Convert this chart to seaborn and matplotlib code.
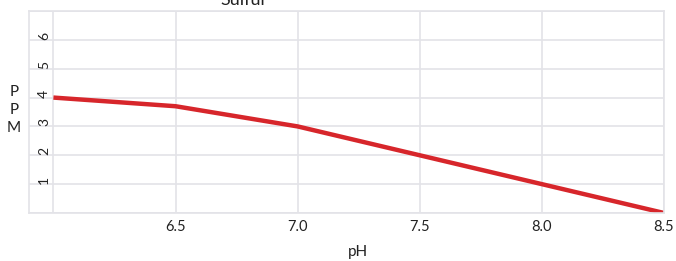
import matplotlib
matplotlib.use("Agg")
import matplotlib.pyplot as plt
import seaborn as sns
import pandas as pd

# data
ph = [6.0, 6.5, 7.0, 7.5, 8.0, 8.5]
ppm = [4.0, 3.7, 3.0, 2.0, 1.0, 0.0]
x_ticks = [6.0, 6.5, 7.0, 7.5, 8.0, 8.5]
x_labels = ["", "6.5", "7.0", "7.5", "8.0", "8.5"]
y_ticks = [0, 1, 2, 3, 4, 5, 6, 7]
y_labels = ["", "1", "2", "3", "4", "5", "6", ""]

df = pd.DataFrame({"pH": ph, "PPM": ppm})

sns.set_theme(style="whitegrid")
plt.rcParams["font.family"] = ["Lato", "DejaVu Sans"]

fig = plt.figure(figsize=(6.76, 2.61), dpi=100)
ax = fig.add_axes([29 / 676, 1 - 213 / 261, (664 - 29) / 676, (213 - 11) / 261])

sns.lineplot(data=df, x="pH", y="PPM", ax=ax, color="#d7262b", linewidth=3.2,
             solid_capstyle="butt", clip_on=True)

ax.set_xlim(5.9, 8.5)
ax.set_ylim(0, 7)
ax.set_xticks(x_ticks)
ax.set_xticklabels(x_labels, fontsize=10.5, color="#222222")
ax.set_yticks(y_ticks)
ax.set_yticklabels(y_labels, fontsize=10, color="#222222", rotation=90,
                   va="bottom", ha="center")
ax.tick_params(axis="x", length=0, pad=5)
ax.tick_params(axis="y", length=0, pad=-11)
ax.grid(True, color="#e3e3e8", linewidth=1.2)
for s in ax.spines.values():
    s.set_color("#e3e3e8")
    s.set_linewidth(1.2)

ax.set_xlabel("")
ax.set_ylabel("")
fig.text(358 / 676, 1 - 256 / 261, "pH", ha="center", va="baseline",
         fontsize=11, color="#222222")
fig.text(14 / 676, 1 - 110 / 261, "P\nP\nM", ha="center", va="center",
         fontsize=11, color="#222222", linespacing=1.35)
fig.text(244 / 676, 1 - 5 / 261, "Sulfur", ha="center", va="baseline",
         fontsize=13, color="#222222")

fig.savefig("out.png", dpi=100)
